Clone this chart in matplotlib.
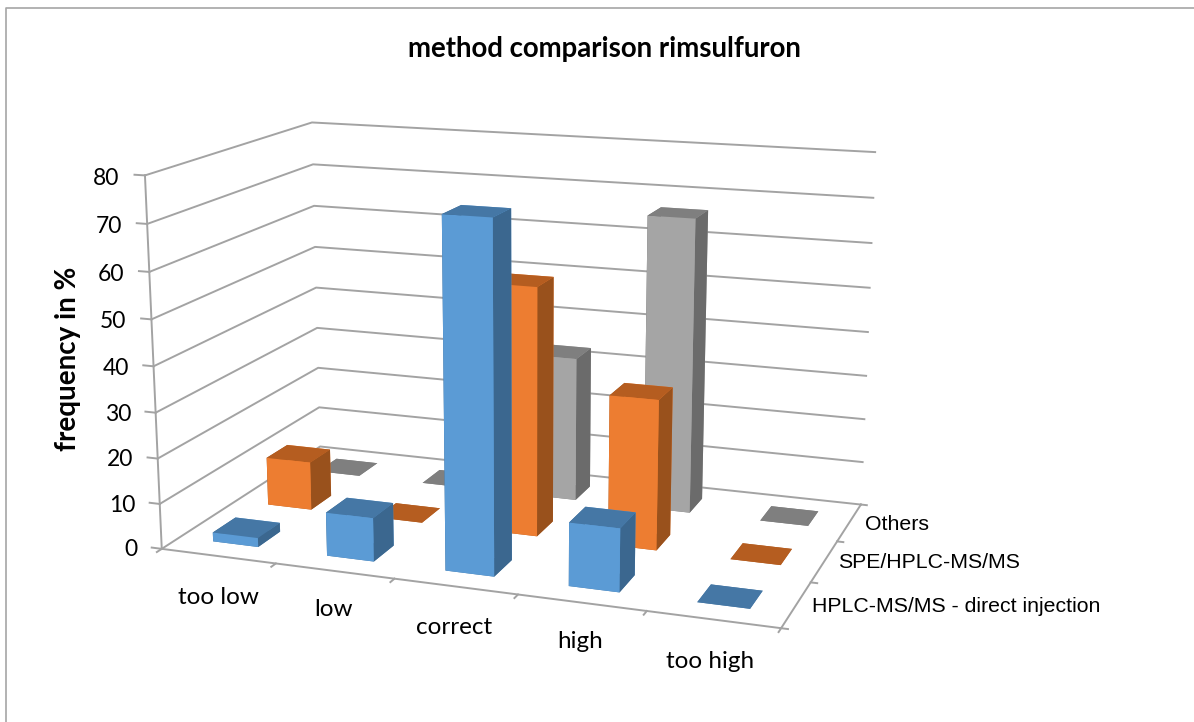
import matplotlib
matplotlib.use('Agg')
import matplotlib.pyplot as plt
from mpl_toolkits.mplot3d import proj3d

categories = ['too low', 'low', 'correct', 'high', 'too high']
series_names = ['HPLC-MS/MS - direct injection', 'SPE/HPLC-MS/MS', 'Others']
blue_values = [2, 9.5, 74.5, 13.5, 0]
orange_values = [11, 0, 55, 33, 0]
grey_values = [0, 0, 33, 66.5, 0]
z_ticks = [0, 10, 20, 30, 40, 50, 60, 70, 80]

W, H = 1194, 722
fig = plt.figure(figsize=(W / 100, H / 100), dpi=100)
# square axes, camera values found by fitting the box corners
ax = fig.add_axes([114.4 / W, -34.0 / H, 793.3 / W, 793.3 / H], projection='3d', computed_zorder=False)
ax.view_init(elev=14.282, azim=-70.22, roll=0.052)
ax.set_proj_type('persp', focal_length=0.497)
ax.set_box_aspect((1, 0.591, 0.598))

# faces: bottom, top, front, back, left, right
faces = {
    'blue': ['#4577A5', '#4577A5', '#5B9BD5', '#5B9BD5', '#3B678F', '#3B678F'],
    'orange': ['#B55D20', '#B55D20', '#ED7D31', '#ED7D31', '#99511C', '#99511C'],
    'grey': ['#7F7F7F', '#7F7F7F', '#A5A5A5', '#A5A5A5', '#6B6B6B', '#6B6B6B'],
}
rows = [(2, grey_values, 'grey'), (1, orange_values, 'orange'), (0, blue_values, 'blue')]
for j, vals, name in rows:
    for i, v in enumerate(vals):
        ax.bar3d(i + 0.3, j + 0.3, 0, 0.4, 0.4, v, color=faces[name], shade=False, zorder=10 + (2 - j) * 10 + i)

ax.set_xlim(0, 5, view_margin=0)
ax.set_ylim(0, 3, view_margin=0)
ax.set_zlim(0, 80, view_margin=0)
ax.set_xticks([])
ax.set_yticks([])
ax.set_zticks([])
ax.set_axis_off()

grid_c = '#A3A3A3'
lw = 1.4
proj = ax.get_proj()
for z in z_ticks:
    ax.plot([0, 0, 5], [0, 3, 3], [z, z, z], color=grid_c, lw=lw, zorder=1)
    ax.plot([-0.09, 0], [0, 0], [z, z], color=grid_c, lw=lw, zorder=1)
    # tick labels as plain 2D text at the projected tick position
    tx, ty, _ = proj3d.proj_transform(-0.22, 0, z - 0.9, proj)
    ax.text2D(tx, ty, str(z), transform=ax.transData, ha='right', va='center', fontsize=16.5, family='Lato', zorder=50)
ax.plot([0, 0], [0, 0], [0, 80], color=grid_c, lw=lw, zorder=1)
ax.plot([0, 5, 5], [0, 0, 3], [0, 0, 0], color=grid_c, lw=lw, zorder=1)
for i in range(6):
    ax.plot([i, i], [-0.08, 0], [0, 0], color=grid_c, lw=lw, zorder=1)
for j in range(4):
    ax.plot([5, 5.05], [j, j], [0, 0], color=grid_c, lw=lw, zorder=1)

fig.text(604 / W, 1 - 49 / H, 'method comparison rimsulfuron', ha='center', va='center', fontsize=19.9, fontweight='bold', family='Lato')
fig.text(68 / W, 1 - 359 / H, 'frequency in %', rotation=90, ha='center', va='center', fontsize=20, fontweight='bold', family='Lato')
for name, cx, cy in zip(categories, [218, 334, 454, 580, 710], [598, 609, 628, 641, 662]):
    fig.text(cx / W, 1 - cy / H, name, ha='center', va='center', fontsize=17.5, family='Lato')
for name, lx, cy in zip(series_names, [812, 838, 865], [606, 563, 525]):
    fig.text(lx / W, 1 - cy / H, name, ha='left', va='center', fontsize=15.3, family='Liberation Sans')
# chart border, only left and top are inside the picture
fig.add_artist(plt.Line2D([5.5 / W, 5.5 / W, 1], [0, 1 - 7.5 / H, 1 - 7.5 / H], color='#A6A6A6', lw=1.2))

fig.savefig('out.png', dpi=100)
